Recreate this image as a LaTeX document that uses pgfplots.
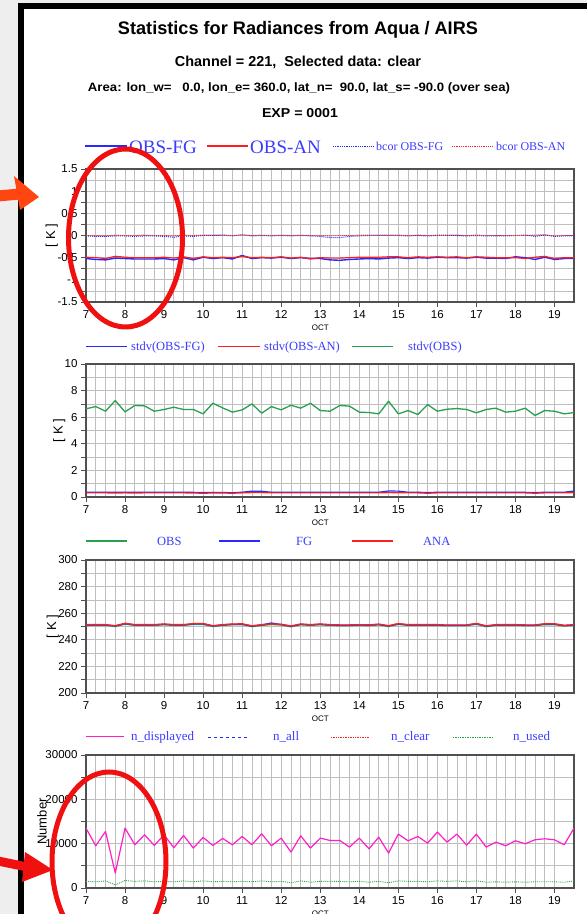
\documentclass[border=0pt]{standalone}
\usepackage{pgfplots}
\pgfplotsset{compat=1.18}
\usepackage{pgfplotstable}
\usepackage{fontspec}
\setmainfont{Liberation Sans}
\newfontfamily\serif{Liberation Serif}
\usepackage{graphicx}

\definecolor{bgc}{RGB}{238,238,238}
\definecolor{gridc}{RGB}{190,190,190}
\definecolor{framec}{RGB}{80,80,80}
\definecolor{lblue}{RGB}{40,40,255}
\definecolor{lred}{RGB}{255,30,30}
\definecolor{lgreen}{RGB}{40,160,80}
\definecolor{lmag}{RGB}{255,30,200}
\definecolor{ltext}{RGB}{60,60,255}
\definecolor{annred}{RGB}{240,16,16}
\definecolor{annorange}{RGB}{255,70,16}

\pgfplotstableread{
x fg an bfg ban
7.00 -0.52 -0.49 -0.01 0.00
7.25 -0.54 -0.50 -0.02 0.00
7.50 -0.55 -0.52 -0.02 -0.01
7.75 -0.51 -0.47 -0.01 0.01
8.00 -0.52 -0.49 -0.01 0.00
8.25 -0.53 -0.50 -0.02 0.00
8.50 -0.53 -0.50 -0.01 0.01
8.75 -0.53 -0.50 -0.01 0.00
9.00 -0.52 -0.49 -0.02 0.00
9.25 -0.55 -0.51 -0.04 -0.01
9.50 -0.50 -0.48 -0.01 0.01
9.75 -0.55 -0.52 -0.02 0.00
10.00 -0.49 -0.48 0.00 0.01
10.25 -0.52 -0.50 0.00 0.01
10.50 -0.50 -0.49 0.01 0.01
10.75 -0.53 -0.50 -0.01 0.00
11.00 -0.45 -0.47 0.02 0.01
11.25 -0.52 -0.50 -0.01 0.00
11.50 -0.50 -0.49 0.00 0.01
11.75 -0.51 -0.50 -0.01 0.00
12.00 -0.49 -0.48 0.00 0.01
12.25 -0.52 -0.51 -0.01 0.00
12.50 -0.50 -0.49 0.00 0.01
12.75 -0.52 -0.53 -0.01 0.00
13.00 -0.52 -0.50 -0.02 0.00
13.25 -0.55 -0.51 -0.05 -0.01
13.50 -0.56 -0.51 -0.05 0.00
13.75 -0.54 -0.50 -0.02 0.00
14.00 -0.53 -0.49 -0.01 0.01
14.25 -0.52 -0.49 0.00 0.01
14.50 -0.53 -0.49 0.00 0.01
14.75 -0.51 -0.48 0.00 0.01
15.00 -0.50 -0.48 0.00 0.01
15.25 -0.52 -0.50 -0.01 0.00
15.50 -0.50 -0.48 0.00 0.01
15.75 -0.51 -0.49 -0.01 0.00
16.00 -0.49 -0.48 0.00 0.01
16.25 -0.50 -0.49 0.00 0.01
16.50 -0.50 -0.48 0.00 0.01
16.75 -0.51 -0.50 -0.01 0.00
17.00 -0.49 -0.48 0.00 0.01
17.25 -0.51 -0.49 -0.01 0.00
17.50 -0.51 -0.50 -0.01 0.00
17.75 -0.52 -0.50 -0.01 0.00
18.00 -0.48 -0.50 0.00 0.00
18.25 -0.50 -0.52 0.01 0.00
18.50 -0.54 -0.49 -0.02 0.01
18.75 -0.49 -0.47 0.01 0.02
19.00 -0.54 -0.52 -0.02 -0.01
19.25 -0.52 -0.50 -0.01 0.00
19.50 -0.52 -0.50 -0.01 0.00
}\tabA

\pgfplotstableread{
x fg an obs
7.00 0.36 0.31 6.63
7.25 0.35 0.31 6.80
7.50 0.36 0.31 6.45
7.75 0.35 0.30 7.25
8.00 0.36 0.31 6.40
8.25 0.35 0.30 6.88
8.50 0.36 0.31 6.85
8.75 0.35 0.31 6.45
9.00 0.36 0.31 6.58
9.25 0.35 0.31 6.75
9.50 0.36 0.31 6.58
9.75 0.35 0.30 6.58
10.00 0.33 0.28 6.25
10.25 0.35 0.30 7.05
10.50 0.34 0.30 6.70
10.75 0.32 0.28 6.38
11.00 0.36 0.31 6.55
11.25 0.44 0.33 7.00
11.50 0.43 0.33 6.30
11.75 0.36 0.31 6.80
12.00 0.36 0.31 6.55
12.25 0.35 0.31 6.90
12.50 0.36 0.31 6.68
12.75 0.36 0.31 7.05
13.00 0.35 0.31 6.50
13.25 0.36 0.31 6.45
13.50 0.36 0.31 6.88
13.75 0.35 0.31 6.83
14.00 0.36 0.31 6.38
14.25 0.36 0.31 6.35
14.50 0.36 0.31 6.25
14.75 0.45 0.33 7.20
15.00 0.44 0.32 6.25
15.25 0.36 0.31 6.50
15.50 0.36 0.31 6.20
15.75 0.33 0.28 6.95
16.00 0.36 0.31 6.45
16.25 0.36 0.31 6.60
16.50 0.36 0.31 6.65
16.75 0.35 0.31 6.58
17.00 0.36 0.31 6.33
17.25 0.36 0.31 6.58
17.50 0.35 0.31 6.68
17.75 0.36 0.31 6.38
18.00 0.36 0.31 6.45
18.25 0.35 0.31 6.68
18.50 0.33 0.28 6.13
18.75 0.36 0.31 6.50
19.00 0.36 0.31 6.45
19.25 0.36 0.31 6.25
19.50 0.45 0.33 6.35
}\tabB

\pgfplotstableread{
x obs fg ana
7.00 250.8 251.2 251.4
7.25 250.8 251.2 251.4
7.50 250.8 251.2 251.4
7.75 250.0 250.4 250.6
8.00 251.8 252.2 252.4
8.25 250.8 251.2 251.4
8.50 250.8 251.2 251.4
8.75 250.8 251.2 251.4
9.00 251.3 251.7 251.9
9.25 250.8 251.2 251.4
9.50 250.8 251.2 251.4
9.75 251.6 252.0 252.2
10.00 251.6 252.0 252.2
10.25 250.0 250.4 250.6
10.50 250.8 251.2 251.4
10.75 251.3 251.7 251.9
11.00 251.4 251.8 252.0
11.25 249.9 250.3 250.5
11.50 250.8 251.2 251.4
11.75 251.5 252.6 251.9
12.00 251.1 251.5 251.7
12.25 249.8 250.2 250.4
12.50 251.3 251.7 251.9
12.75 250.8 251.2 251.4
13.00 251.3 251.7 251.9
13.25 250.8 251.2 251.4
13.50 250.6 251.0 251.2
13.75 250.6 251.0 251.2
14.00 250.8 251.2 251.4
14.25 250.6 251.0 251.2
14.50 251.2 251.6 251.8
14.75 250.0 250.4 250.6
15.00 251.6 252.0 252.2
15.25 250.8 251.2 251.4
15.50 250.8 251.2 251.4
15.75 250.8 251.2 251.4
16.00 250.8 251.2 251.4
16.25 250.5 250.9 251.1
16.50 250.5 250.9 251.1
16.75 250.6 251.0 251.2
17.00 251.7 252.1 252.3
17.25 249.9 250.3 250.5
17.50 250.8 251.2 251.4
17.75 250.8 251.2 251.4
18.00 250.8 251.2 251.4
18.25 250.6 251.0 251.2
18.50 250.6 251.0 251.2
18.75 251.4 251.9 252.0
19.00 251.4 251.9 252.0
19.25 250.3 250.7 250.9
19.50 250.8 251.2 251.4
}\tabC

\pgfplotstableread{
x disp used
7.00 13500 1500
7.25 9525 1400
7.50 12750 1600
7.75 3375 700
8.00 13500 1700
8.25 9750 1500
8.50 12000 1600
8.75 9600 1400
9.00 12000 1500
9.25 9075 1400
9.50 11850 1600
9.75 9000 1400
10.00 11400 1600
10.25 9600 1400
10.50 11175 1500
10.75 9750 1400
11.00 11625 1500
11.25 9750 1400
11.50 12225 1600
11.75 9525 1400
12.00 11250 1500
12.25 8100 1200
12.50 11775 1600
12.75 9000 1300
13.00 11250 1500
13.25 10725 1500
13.50 10725 1500
13.75 9225 1400
14.00 11250 1500
14.25 8850 1300
14.50 11475 1500
14.75 7875 1200
15.00 12150 1600
15.25 10650 1500
15.50 11625 1500
15.75 10125 1400
16.00 12600 1600
16.25 10350 1500
16.50 12150 1600
16.75 9675 1400
17.00 12150 1600
17.25 9225 1300
17.50 10350 1400
17.75 9525 1300
18.00 10650 1400
18.25 9975 1300
18.50 10875 1400
18.75 11100 1400
19.00 10875 1400
19.25 9750 1300
19.50 13500 1600
}\tabD

\pgfplotsset{
  panel/.style={
    width=488pt, height=133pt, scale only axis,
    xmin=7, xmax=19.5,
    xtick={7,...,19},
    minor x tick num=3,
    grid=both,
    major grid style={draw=gridc, line width=0.7pt},
    minor grid style={draw=gridc, line width=0.7pt},
    axis line style={draw=framec, line width=1.2pt},
    tick align=outside, xtick pos=left, ytick pos=left,
    major tick length=5pt, minor tick length=0pt,
    tick style={draw=framec, line width=0.7pt},
    ticklabel style={font=\fontsize{11.5}{11.5}\selectfont, text=black},
    /pgf/number format/assume math mode=true,
    scaled y ticks=false,
    xlabel={OCT},
    xlabel style={at={(axis description cs:0.48,0)}, anchor=center, yshift=-26pt, font=\fontsize{8}{8}\selectfont},
    ylabel style={anchor=center, font=\fontsize{13}{13}\selectfont},
    every axis plot/.append style={line join=round},
  }
}

\begin{document}
\begin{tikzpicture}
\path[use as bounding box] (0pt,0pt) rectangle (587pt,914pt);
\clip (0pt,0pt) rectangle (587pt,914pt);
\fill[bgc] (0pt,0pt) rectangle (587pt,914pt);
\fill[white] (22pt,0pt) rectangle (587pt,907pt);
\fill[black] (18pt,0pt) rectangle (24pt,911pt);
\fill[black] (18pt,905pt) rectangle (587pt,911pt);

% titles
\node at (298pt,884pt) {\resizebox{360pt}{!}{\fontsize{18}{18}\selectfont\bfseries Statistics for Radiances from Aqua / AIRS}};
\node at (298pt,852pt) {\resizebox{246pt}{!}{\fontsize{14.5}{14.5}\selectfont\bfseries Channel = 221,\ \ Selected data: clear}};
\node at (299pt,826pt) {\resizebox{422pt}{8.8pt}{\fontsize{12}{12}\selectfont\bfseries Area: lon\_w=\ \ \ 0.0, lon\_e= 360.0, lat\_n=\ \ 90.0, lat\_s= -90.0 (over sea)}};
\node at (300pt,801pt) {\resizebox{76pt}{9pt}{\fontsize{12}{12}\selectfont\bfseries EXP = 0001}};

% ---------- panel 1
\begin{axis}[panel, at={(86pt,612pt)}, anchor=south west,
  ymin=-1.5, ymax=1.5,
  ytick={-1.5,-1.25,-1,-0.75,-0.5,-0.25,0,0.25,0.5,0.75,1,1.25,1.5},
  yticklabels={-1.5,,-1,,-0.5,,0,,0.5,,1,,1.5},
  ylabel={[ K ]},
  ylabel style={at={(axis description cs:-0.07,0.5)}}]
\addplot[lblue, line width=1.4pt] table[x=x,y=fg] {\tabA};
\addplot[lred, line width=1.2pt] table[x=x,y=an] {\tabA};
\addplot[lblue, densely dotted, line width=1pt] table[x=x,y=bfg] {\tabA};
\addplot[lred, densely dotted, line width=0.9pt] table[x=x,y=ban] {\tabA};
\end{axis}

% ---------- panel 2
\begin{axis}[panel, at={(86pt,417pt)}, anchor=south west,
  ymin=0, ymax=10,
  ytick={0,1,2,3,4,5,6,7,8,9,10},
  yticklabels={0,,2,,4,,6,,8,,10},
  ylabel={[ K ]},
  ylabel style={at={(axis description cs:-0.055,0.5)}}]
\addplot[lblue, line width=1.2pt] table[x=x,y=fg] {\tabB};
\addplot[lred, line width=1.2pt] table[x=x,y=an] {\tabB};
\addplot[lgreen, line width=1.3pt] table[x=x,y=obs] {\tabB};
\end{axis}

% ---------- panel 3
\begin{axis}[panel, at={(86pt,221pt)}, anchor=south west,
  ymin=200, ymax=300,
  ytick={200,210,220,230,240,250,260,270,280,290,300},
  yticklabels={200,,220,,240,,260,,280,,300},
  ylabel={[ K ]},
  ylabel style={at={(axis description cs:-0.068,0.5)}}]
\addplot[lgreen, line width=1.3pt] table[x=x,y=obs] {\tabC};
\addplot[lblue, line width=1.3pt] table[x=x,y=fg] {\tabC};
\addplot[lred, line width=1.3pt] table[x=x,y=ana] {\tabC};
\end{axis}

% ---------- panel 4
\begin{axis}[panel, at={(86pt,26pt)}, anchor=south west,
  ymin=0, ymax=30000,
  ytick={0,5000,10000,15000,20000,25000,30000},
  yticklabels={0,,10000,,20000,,30000},
  ylabel={Number},
  ylabel style={at={(axis description cs:-0.09,0.5)}}]
\addplot[lmag, line width=1.2pt] table[x=x,y=disp] {\tabD};
\addplot[lgreen, densely dotted, line width=0.9pt] table[x=x,y=used] {\tabD};
\end{axis}

% ---------- legends
\begin{scope}[x=1pt,y=1pt,every node/.style={anchor=west, inner sep=0pt, text=ltext}]
% panel 1
\draw[lblue, line width=1.2pt] (85,768) -- (127,768);
\node at (129,767) {\serif\fontsize{19}{19}\selectfont OBS-FG};
\draw[lred, line width=1.2pt] (207,768) -- (248,768);
\node at (250,767) {\serif\fontsize{19}{19}\selectfont OBS-AN};
\draw[lblue, densely dotted, line width=0.8pt] (333,768) -- (373,768);
\node at (376,768) {\serif\fontsize{12}{12}\selectfont bcor OBS-FG};
\draw[lred, densely dotted, line width=0.8pt] (452,768) -- (492,768);
\node at (496,768) {\serif\fontsize{12}{12}\selectfont bcor OBS-AN};
% panel 2
\draw[lblue, line width=1pt] (86,567) -- (127,567);
\node at (131,567) {\serif\fontsize{12.5}{12.5}\selectfont stdv(OBS-FG)};
\draw[lred, line width=1pt] (218,567) -- (260,567);
\node at (264,567) {\serif\fontsize{12.5}{12.5}\selectfont stdv(OBS-AN)};
\draw[lgreen, line width=1pt] (352,567) -- (393,567);
\node at (408,567) {\serif\fontsize{12.5}{12.5}\selectfont stdv(OBS)};
% panel 3
\draw[lgreen, line width=1.2pt] (86,373) -- (127,373);
\node at (157,373) {\serif\fontsize{12.5}{12.5}\selectfont OBS};
\draw[lblue, line width=1.2pt] (219,373) -- (260,373);
\node at (296,373) {\serif\fontsize{12.5}{12.5}\selectfont FG};
\draw[lred, line width=1.2pt] (352,373) -- (393,373);
\node at (423,373) {\serif\fontsize{12.5}{12.5}\selectfont ANA};
% panel 4
\draw[lmag, line width=1pt] (86,177) -- (124,177);
\node at (131,177) {\serif\fontsize{13}{13}\selectfont n\_displayed};
\draw[lblue, dashed, line width=0.9pt] (208,177) -- (247,177);
\node at (273,177) {\serif\fontsize{13}{13}\selectfont n\_all};
\draw[lred, densely dotted, line width=0.7pt] (331,177) -- (369,177);
\node at (391,177) {\serif\fontsize{13}{13}\selectfont n\_clear};
\draw[lgreen, densely dotted, line width=0.7pt] (453,177) -- (493,177);
\node at (513,177) {\serif\fontsize{13}{13}\selectfont n\_used};

% ---------- annotations
\draw[annred, line width=5pt] (125.5,676) ellipse [x radius=57, y radius=89];
\draw[annred, line width=5pt] (109,52) ellipse [x radius=57, y radius=90];
\draw[annorange, line width=11pt] (-2,718) -- (20,720);
\fill[annorange] (14,738) -- (39,717) -- (20,704) -- cycle;
\draw[annred, line width=9pt] (-2,53) -- (27,47);
\fill[annred] (25,62) -- (53,44) -- (22,32) -- cycle;
\end{scope}
\end{tikzpicture}
\end{document}
